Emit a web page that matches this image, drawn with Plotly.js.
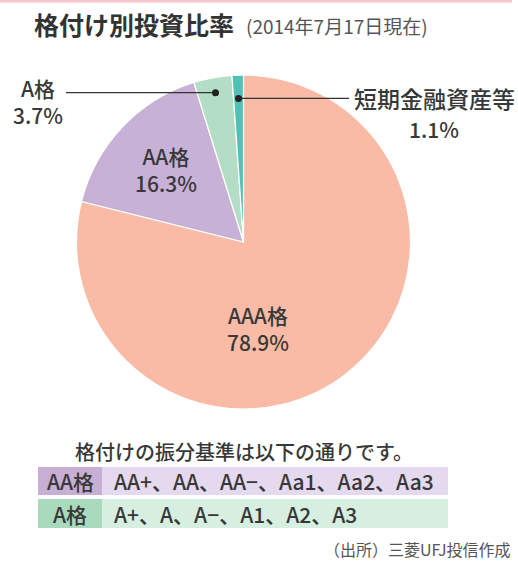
<!DOCTYPE html>
<html><head><meta charset="utf-8">
<script src="https://cdn.plot.ly/plotly-3.0.1.min.js"></script>
<style>html,body{margin:0;padding:0;background:#fff;}#c{width:518px;height:562px;}</style>
</head><body><div id="c"></div>
<script>
// Data
const categories = ["AAA格", "AA格", "A格", "短期金融資産等"];
const shares = [78.9, 16.3, 3.7, 1.1];
const sliceColors = ["#F9BBA6", "#C8B1D6", "#B3DEC5", "#4EC3B5"];
const titleText = "格付け別投資比率";
const subtitleText = "(2014年7月17日現在)";
const noteText = "格付けの振分基準は以下の通りです。";
const tableHeads = ["AA格", "A格"];
const tableRows = ["AA+、AA、AA−、Aa1、Aa2、Aa3", "A+、A、A−、A1、A2、A3"];
const sourceText = "（出所）三菱UFJ投信作成";

const W = 518, H = 562;
const FONT = "Noto Sans CJK JP, Noto Sans, sans-serif";
const TXT = "#383838";
const px = x => x / W;
const py = y => 1 - y / H;

// pie geometry (pixels)
const cx = 243.5, cy = 242, R = 167;

const trace = {
  type: "pie",
  labels: categories,
  values: shares,
  sort: false,
  direction: "clockwise",
  rotation: 0,
  textinfo: "none",
  hoverinfo: "label+percent",
  marker: {colors: sliceColors, line: {color: "#ffffff", width: 1.2}},
  domain: {x: [px(cx - R), px(cx + R)], y: [py(cy + R), py(cy - R)]},
  showlegend: false
};

const total = shares.reduce((a, b) => a + b, 0);
function midPoint(i, frac) {
  let cum = 0;
  for (let k = 0; k < i; k++) cum += shares[k];
  const a = (cum + shares[i] / 2) / total * 2 * Math.PI;
  return [cx + Math.sin(a) * R * frac, cy - Math.cos(a) * R * frac];
}

const shapes = [];
const annotations = [];

// top pink rule
shapes.push({type: "line", xref: "paper", yref: "paper", x0: 0, x1: px(512), y0: py(1), y1: py(1),
  line: {color: "#F6C4CA", width: 3}});

// Leader lines and dots for small slices
const dA = midPoint(2, 0.91);
const dS = midPoint(3, 0.86);
shapes.push({type: "line", xref: "paper", yref: "paper", x0: px(66), x1: px(dA[0]), y0: py(dA[1]), y1: py(dA[1]),
  line: {color: "#333", width: 1.2}});
shapes.push({type: "circle", xref: "paper", yref: "paper", x0: px(dA[0] - 3.5), x1: px(dA[0] + 3.5),
  y0: py(dA[1] + 3.5), y1: py(dA[1] - 3.5), fillcolor: "#222", line: {width: 0}});
shapes.push({type: "line", xref: "paper", yref: "paper", x0: px(dS[0]), x1: px(349), y0: py(dS[1]), y1: py(dS[1]),
  line: {color: "#333", width: 1.2}});
shapes.push({type: "circle", xref: "paper", yref: "paper", x0: px(dS[0] - 3.5), x1: px(dS[0] + 3.5),
  y0: py(dS[1] + 3.5), y1: py(dS[1] - 3.5), fillcolor: "#222", line: {width: 0}});

function lab(x, y, text, size, anchor, color, weight) {
  annotations.push({xref: "paper", yref: "paper", x: px(x), y: py(y), text: text, showarrow: false,
    xanchor: anchor || "center", yanchor: "middle",
    font: {family: FONT, size: size, color: color || TXT, weight: weight || 500}});
}

// Table
const headFill = ["#C6AED5", "#A9DABE"];
const rowFill = ["#E4D9EE", "#D6EFE0"];
const rowY = [[467, 495], [499, 528]];
for (let i = 0; i < 2; i++) {
  shapes.push({type: "rect", xref: "paper", yref: "paper", x0: px(38), x1: px(102), y0: py(rowY[i][1]), y1: py(rowY[i][0]),
    fillcolor: headFill[i], line: {width: 0}, layer: "below"});
  shapes.push({type: "rect", xref: "paper", yref: "paper", x0: px(102), x1: px(448), y0: py(rowY[i][1]), y1: py(rowY[i][0]),
    fillcolor: rowFill[i], line: {width: 0}, layer: "below"});
  const ym = (rowY[i][0] + rowY[i][1]) / 2;
  lab(70, ym, tableHeads[i], 21);
  lab(112, ym, tableRows[i], 21, "left");
}

// Titles
lab(32, 24, titleText, 25, "left", "#333", 700);
lab(244, 25, subtitleText, 19, "left", "#555", 400);

// Slice labels
lab(38, 102, categories[2] + "<br>" + shares[2].toFixed(1) + "%", 21);
lab(434, 98, categories[3], 23);
lab(434, 129, shares[3].toFixed(1) + "%", 21);
lab(166, 169, categories[1] + "<br>" + shares[1].toFixed(1) + "%", 21);
lab(258, 329, categories[0] + "<br>" + shares[0].toFixed(1) + "%", 21);

// Note and source
lab(244, 451, noteText, 20);
lab(512, 549, sourceText, 16, "right", "#555", 400);

const layout = {
  width: W, height: H,
  margin: {l: 0, r: 0, t: 0, b: 0},
  paper_bgcolor: "#ffffff",
  plot_bgcolor: "#ffffff",
  shapes: shapes,
  annotations: annotations,
  showlegend: false
};

Plotly.newPlot("c", [trace], layout, {displayModeBar: false, staticPlot: true});
</script>
</body></html>
